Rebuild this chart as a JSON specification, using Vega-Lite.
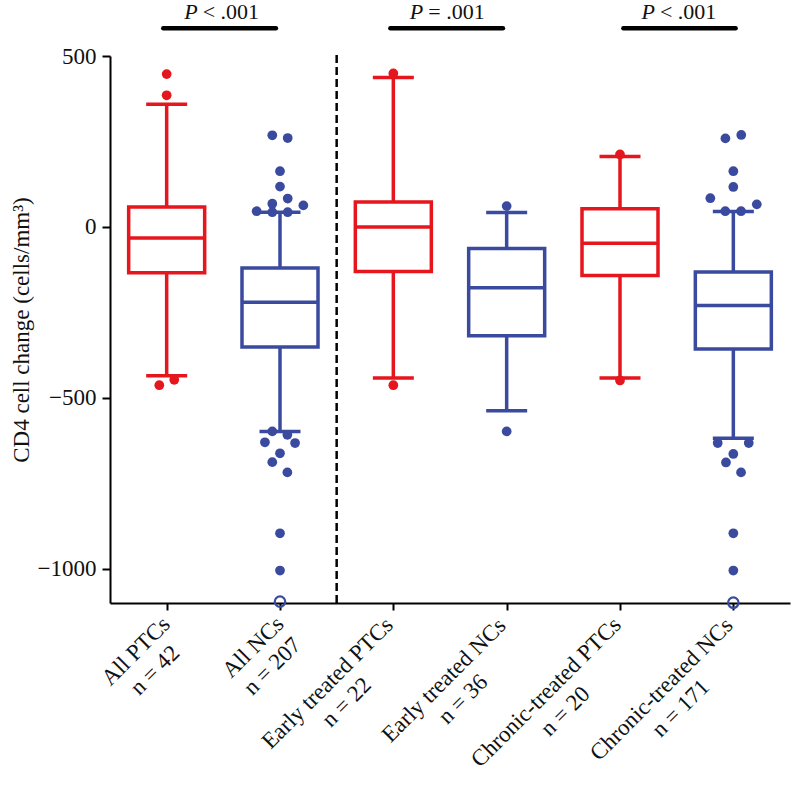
{
  "$schema": "https://vega.github.io/schema/vega-lite/v6.json",
  "width": 680,
  "height": 547,
  "autosize": {"type": "none"},
  "padding": {"left": 110, "top": 56, "right": 2, "bottom": 199},
  "background": "white",
  "config": {
    "view": {"stroke": null},
    "font": "Liberation Serif",
    "axis": {
      "domainColor": "#000", "domainWidth": 2,
      "tickColor": "#000", "tickWidth": 2, "tickSize": 8,
      "labelFont": "Liberation Serif", "labelFontSize": 23, "labelColor": "#111",
      "titleFont": "Liberation Serif", "titleFontSize": 23, "titleFontWeight": "normal", "titleColor": "#111",
      "grid": false
    }
  },
  "datasets": {
    "boxes": [
      {"pos": 1, "grp": "PTC", "lo": -435, "q1": -134, "med": -32, "q3": 58, "hi": 359},
      {"pos": 2, "grp": "NC", "lo": -598, "q1": -351, "med": -220, "q3": -120, "hi": 43},
      {"pos": 3, "grp": "PTC", "lo": -442, "q1": -130, "med": 0, "q3": 73, "hi": 437},
      {"pos": 4, "grp": "NC", "lo": -538, "q1": -318, "med": -178, "q3": -63, "hi": 42},
      {"pos": 5, "grp": "PTC", "lo": -442, "q1": -142, "med": -48, "q3": 53, "hi": 206},
      {"pos": 6, "grp": "NC", "lo": -618, "q1": -357, "med": -230, "q3": -132, "hi": 45}
    ],
    "pts": [
      {"x": 1.0, "v": 447, "grp": "PTC"}, {"x": 1.0, "v": 385, "grp": "PTC"},
      {"x": 0.935, "v": -463, "grp": "PTC"}, {"x": 1.067, "v": -447, "grp": "PTC"},
      {"x": 1.932, "v": 268, "grp": "NC"}, {"x": 2.068, "v": 260, "grp": "NC"},
      {"x": 2.0, "v": 163, "grp": "NC"}, {"x": 2.0, "v": 118, "grp": "NC"},
      {"x": 2.068, "v": 83, "grp": "NC"}, {"x": 1.932, "v": 68, "grp": "NC"},
      {"x": 2.206, "v": 63, "grp": "NC"}, {"x": 1.794, "v": 46, "grp": "NC"},
      {"x": 1.932, "v": 43, "grp": "NC"}, {"x": 2.068, "v": 43, "grp": "NC"},
      {"x": 1.932, "v": -598, "grp": "NC"}, {"x": 2.065, "v": -608, "grp": "NC"},
      {"x": 1.867, "v": -630, "grp": "NC"}, {"x": 2.133, "v": -632, "grp": "NC"},
      {"x": 2.0, "v": -662, "grp": "NC"}, {"x": 1.932, "v": -688, "grp": "NC"},
      {"x": 2.065, "v": -718, "grp": "NC"}, {"x": 2.0, "v": -896, "grp": "NC"},
      {"x": 2.0, "v": -1005, "grp": "NC"},
      {"x": 3.0, "v": 449, "grp": "PTC"}, {"x": 3.0, "v": -463, "grp": "PTC"},
      {"x": 4.0, "v": 61, "grp": "NC"}, {"x": 4.0, "v": -598, "grp": "NC"},
      {"x": 5.0, "v": 212, "grp": "PTC"}, {"x": 5.0, "v": -449, "grp": "PTC"},
      {"x": 5.93, "v": 259, "grp": "NC"}, {"x": 6.07, "v": 269, "grp": "NC"},
      {"x": 6.0, "v": 163, "grp": "NC"}, {"x": 6.0, "v": 117, "grp": "NC"},
      {"x": 5.797, "v": 84, "grp": "NC"}, {"x": 6.207, "v": 66, "grp": "NC"},
      {"x": 5.929, "v": 46, "grp": "NC"}, {"x": 6.068, "v": 46, "grp": "NC"},
      {"x": 5.862, "v": -632, "grp": "NC"}, {"x": 6.136, "v": -632, "grp": "NC"},
      {"x": 6.0, "v": -664, "grp": "NC"}, {"x": 5.935, "v": -689, "grp": "NC"},
      {"x": 6.068, "v": -718, "grp": "NC"}, {"x": 6.0, "v": -896, "grp": "NC"},
      {"x": 6.0, "v": -1005, "grp": "NC"}
    ],
    "openpts": [
      {"x": 2.0, "v": -1096, "grp": "NC"},
      {"x": 6.0, "v": -1099, "grp": "NC"}
    ],
    "pann": [
      {"x1": 0.97, "x2": 1.964, "xm": 1.485, "rel": "< .001"},
      {"x1": 2.974, "x2": 3.967, "xm": 3.476, "rel": "= .001"},
      {"x1": 5.03, "x2": 6.02, "xm": 5.52, "rel": "< .001"}
    ]
  },
  "layer": [
    {
      "data": {"name": "boxes"},
      "mark": {"type": "rule", "strokeWidth": 3.5},
      "encoding": {
        "x": {"field": "pos", "type": "quantitative",
              "scale": {"domain": [0.5, 6.5], "nice": false, "zero": false, "padding": 0},
              "axis": {"values": [1, 2, 3, 4, 5, 6], "title": null, "tickSize": 7,
                       "labelAngle": -45, "labelAlign": "center", "labelBaseline": "top",
                       "labelLineHeight": 27, "labelFontSize": 23, "labelOverlap": false, "labelLimit": 0,
                       "labelOffset": {"condition": [
                          {"test": "datum.value == 1", "value": -39},
                          {"test": "datum.value == 2", "value": -35},
                          {"test": "datum.value == 3", "value": -74},
                          {"test": "datum.value == 4", "value": -71},
                          {"test": "datum.value == 5", "value": -82}
                        ], "value": -80},
                       "labelPadding": {"condition": [
                          {"test": "datum.value == 1", "value": 33},
                          {"test": "datum.value == 2", "value": 29},
                          {"test": "datum.value == 3", "value": 65},
                          {"test": "datum.value == 4", "value": 62},
                          {"test": "datum.value == 5", "value": 74}
                        ], "value": 71},
                       "labelExpr": "datum.value == 1 ? ['All PTCs', 'n = 42'] : datum.value == 2 ? ['All NCs', 'n = 207'] : datum.value == 3 ? ['Early treated PTCs', 'n = 22'] : datum.value == 4 ? ['Early treated NCs', 'n = 36'] : datum.value == 5 ? ['Chronic-treated PTCs', 'n = 20'] : ['Chronic-treated NCs', 'n = 171']"}},
        "y": {"field": "lo", "type": "quantitative",
              "scale": {"domain": [-1100, 500], "nice": false, "zero": false, "padding": 0},
              "axis": {"values": [-1000, -500, 0, 500], "format": "d",
                       "title": "CD4 cell change (cells/mm³)", "labelFontSize": 23,
                       "labelPadding": 6, "titlePadding": 4}},
        "y2": {"field": "hi"},
        "color": {"field": "grp", "type": "nominal",
                  "scale": {"domain": ["PTC", "NC"], "range": ["#e5161d", "#3a4a9e"]},
                  "legend": null}
      }
    },
    {
      "data": {"name": "boxes"},
      "mark": {"type": "bar", "width": 76, "fill": "white", "strokeWidth": 3.5},
      "encoding": {
        "x": {"field": "pos", "type": "quantitative"},
        "y": {"field": "q1", "type": "quantitative"},
        "y2": {"field": "q3"},
        "stroke": {"field": "grp", "type": "nominal",
                   "scale": {"domain": ["PTC", "NC"], "range": ["#e5161d", "#3a4a9e"]},
                   "legend": null}
      }
    },
    {
      "data": {"name": "boxes"},
      "mark": {"type": "tick", "orient": "horizontal", "size": 76, "thickness": 3.5, "opacity": 1},
      "encoding": {
        "x": {"field": "pos", "type": "quantitative"},
        "y": {"field": "med", "type": "quantitative"},
        "color": {"field": "grp", "type": "nominal", "legend": null}
      }
    },
    {
      "data": {"name": "boxes"},
      "mark": {"type": "tick", "orient": "horizontal", "size": 41, "thickness": 3.5, "opacity": 1},
      "encoding": {
        "x": {"field": "pos", "type": "quantitative"},
        "y": {"field": "hi", "type": "quantitative"},
        "color": {"field": "grp", "type": "nominal", "legend": null}
      }
    },
    {
      "data": {"name": "boxes"},
      "mark": {"type": "tick", "orient": "horizontal", "size": 41, "thickness": 3.5, "opacity": 1},
      "encoding": {
        "x": {"field": "pos", "type": "quantitative"},
        "y": {"field": "lo", "type": "quantitative"},
        "color": {"field": "grp", "type": "nominal", "legend": null}
      }
    },
    {
      "data": {"name": "pts"},
      "mark": {"type": "circle", "size": 95, "opacity": 1},
      "encoding": {
        "x": {"field": "x", "type": "quantitative"},
        "y": {"field": "v", "type": "quantitative"},
        "color": {"field": "grp", "type": "nominal", "legend": null}
      }
    },
    {
      "data": {"name": "openpts"},
      "mark": {"type": "point", "shape": "circle", "size": 110, "filled": false, "strokeWidth": 2.2, "opacity": 1, "clip": false},
      "encoding": {
        "x": {"field": "x", "type": "quantitative"},
        "y": {"field": "v", "type": "quantitative"},
        "color": {"field": "grp", "type": "nominal", "legend": null}
      }
    },
    {
      "data": {"values": [{"id": 1}]},
      "mark": {"type": "rule", "strokeDash": [8, 4], "strokeWidth": 2.5, "color": "#000"},
      "encoding": {
        "x": {"datum": 2.5, "type": "quantitative"},
        "y": {"datum": -1100, "type": "quantitative"},
        "y2": {"datum": 510}
      }
    },
    {
      "data": {"name": "pann"},
      "mark": {"type": "rule", "strokeWidth": 4.5, "color": "#000", "strokeCap": "round"},
      "encoding": {
        "x": {"field": "x1", "type": "quantitative"},
        "x2": {"field": "x2"},
        "y": {"datum": 581, "type": "quantitative"}
      }
    },
    {
      "data": {"name": "pann"},
      "mark": {"type": "text", "text": "P", "fontStyle": "italic", "fontSize": 22, "align": "right", "baseline": "alphabetic", "dx": -24, "color": "#111"},
      "encoding": {
        "x": {"field": "xm", "type": "quantitative"},
        "y": {"datum": 608, "type": "quantitative"}
      }
    },
    {
      "data": {"name": "pann"},
      "mark": {"type": "text", "fontSize": 22, "align": "left", "baseline": "alphabetic", "dx": -19, "color": "#111"},
      "encoding": {
        "x": {"field": "xm", "type": "quantitative"},
        "y": {"datum": 608, "type": "quantitative"},
        "text": {"field": "rel"}
      }
    }
  ]
}
